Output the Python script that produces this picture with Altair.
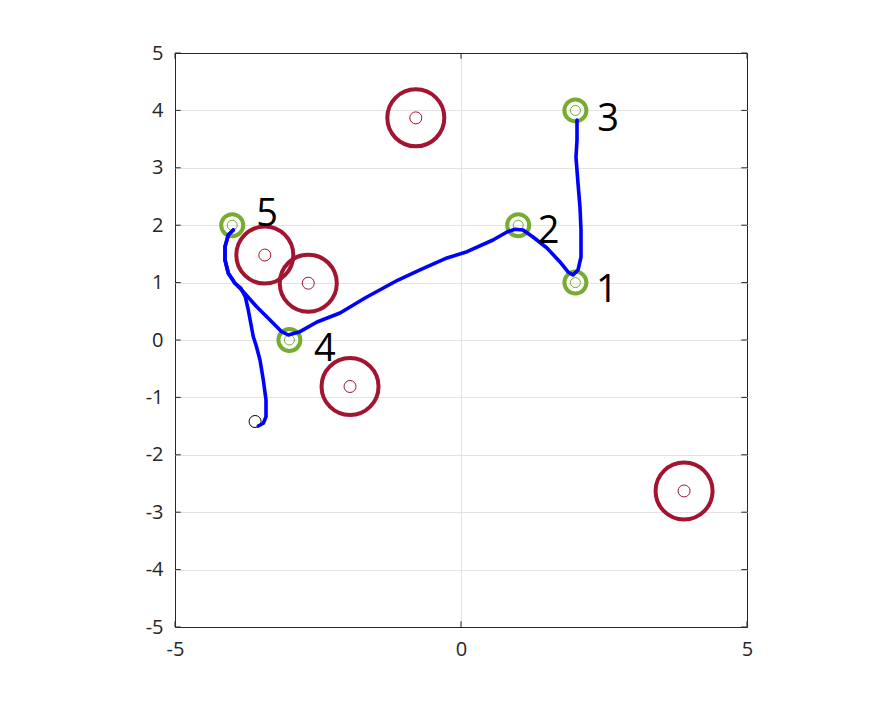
import altair as alt
import pandas as pd

# ---- data ----
obs_x = [-0.79, -3.43, -2.67, -1.94, 3.90]
obs_y = [3.87, 1.48, 0.99, -0.81, -2.63]

goal_x = [2, 1, 2, -3, -4]
goal_y = [1, 2, 4, 0, 2]
goal_lbl = ["1", "2", "3", "4", "5"]
lbl_x = [2.36, 1.34, 2.38, -2.57, -3.58]
lbl_y = [0.66, 1.69, 3.64, -0.37, 1.99]

start_x = [-3.60]
start_y = [-1.42]

# path segment a: start -> junction -> goal 5
seg_a_x = [-3.544, -3.456, -3.409, -3.409, -3.456, -3.514, -3.584, -3.631,
           -3.719, -3.770, -3.850, -3.951, -4.068, -4.126, -4.126, -4.068, -3.981]
seg_a_y = [-1.498, -1.451, -1.336, -1.045, -0.697, -0.348, -0.087, 0.057,
           0.523, 0.750, 0.905, 0.988, 1.162, 1.394, 1.625, 1.829, 1.916]
# path segment b: goal 5 -> goal 4 -> goal 2 -> goal 1 -> goal 3
seg_b_x = [-3.981, -4.068, -4.126, -4.126, -4.068, -3.951, -3.806, -3.572,
           -3.339, -3.135, -3.019, -2.815, -2.517, -2.115, -1.678, -1.101,
           -0.717, -0.245, 0.105, 0.559, 0.804, 0.944, 1.084, 1.259, 1.503,
           1.731, 1.871, 1.958, 2.045, 2.098, 2.098, 2.080, 2.045, 2.010,
           2.028, 2.028]
seg_b_y = [1.916, 1.829, 1.625, 1.394, 1.162, 0.988, 0.841, 0.580,
           0.348, 0.145, 0.087, 0.145, 0.314, 0.470, 0.732, 1.045,
           1.220, 1.429, 1.538, 1.742, 1.882, 1.929, 1.916, 1.794, 1.603,
           1.359, 1.185, 1.132, 1.220, 1.446, 1.916, 2.317, 2.735, 3.188,
           3.484, 3.833]

x_ticks = [-5, 0, 5]
y_ticks = [-5, -4, -3, -2, -1, 0, 1, 2, 3, 4, 5]

# ---- tables ----
obs = pd.DataFrame({"x": obs_x, "y": obs_y})
goals = pd.DataFrame({"x": goal_x, "y": goal_y})
labels = pd.DataFrame({"x": lbl_x, "y": lbl_y, "t": goal_lbl})
start = pd.DataFrame({"x": start_x, "y": start_y})
path = pd.concat([
    pd.DataFrame({"x": seg_a_x, "y": seg_a_y, "seg": "a", "i": range(len(seg_a_x))}),
    pd.DataFrame({"x": seg_b_x, "y": seg_b_y, "seg": "b", "i": range(len(seg_b_x))}),
])

RED = "#A2142F"
GREEN = "#77AC30"
AX = "#262626"
GRID = "#e3e3e3"
FONT = "Open Sans"
TL = 0.1  # tick length in data units

xs = alt.Scale(domain=[-5, 5], nice=False, zero=False)
ys = alt.Scale(domain=[-5, 5], nice=False, zero=False)

grid_col = {"condition": {"test": "abs(datum.value) == 5", "value": AX}, "value": GRID}

X = alt.X("x:Q", scale=xs, axis=alt.Axis(values=x_ticks, title=None, grid=True,
          gridColor=grid_col, ticks=False, domain=False, labelFontSize=20,
          labelFont=FONT, labelColor=AX, labelPadding=12, labelFlush=False,
          labelOverlap=False, labelExpr="'' + datum.value"))
Y = alt.Y("y:Q", scale=ys, axis=alt.Axis(values=y_ticks, title=None, grid=True,
          gridColor=grid_col, ticks=False, domain=False, labelFontSize=20,
          labelFont=FONT, labelColor=AX, labelPadding=12, labelFlush=False,
          labelOverlap=False, labelExpr="'' + datum.value"))

base_x = alt.X("x:Q", scale=xs)
base_y = alt.Y("y:Q", scale=ys)

obs_outer = alt.Chart(obs).mark_point(shape="circle", size=3249, strokeWidth=4,
                                      color=RED, filled=False, opacity=1).encode(x=X, y=Y)
obs_inner = alt.Chart(obs).mark_point(shape="circle", size=144, strokeWidth=1,
                                      color=RED, filled=False, opacity=1).encode(x=base_x, y=base_y)
goal_outer = alt.Chart(goals).mark_point(shape="circle", size=484, strokeWidth=4,
                                         color=GREEN, filled=False, opacity=1).encode(x=base_x, y=base_y)
goal_inner = alt.Chart(goals).mark_point(shape="circle", size=100, strokeWidth=1,
                                         color=GREEN, filled=False, opacity=1).encode(x=base_x, y=base_y)
start_m = alt.Chart(start).mark_point(shape="circle", size=144, strokeWidth=1,
                                      color="black", filled=False, opacity=1).encode(x=base_x, y=base_y)
path_l = alt.Chart(path).mark_line(color="#0000FF", strokeWidth=3.6, strokeCap="round",
                                   strokeJoin="round").encode(x=base_x, y=base_y,
                                                              detail="seg:N", order="i:Q")
text_l = alt.Chart(labels).mark_text(align="left", baseline="alphabetic", fontSize=38,
                                     font=FONT, color="black").encode(x=base_x, y=base_y, text="t:N")

# inward tick marks on all four sides
yt = pd.DataFrame({"v": y_ticks})
xt = pd.DataFrame({"v": x_ticks})
tick_style = dict(color=AX, strokeWidth=1)
ticks_left = alt.Chart(yt).mark_rule(**tick_style).encode(
    x=alt.datum(-5, scale=xs), x2=alt.datum(-5 + TL), y=alt.Y("v:Q", scale=ys))
ticks_right = alt.Chart(yt).mark_rule(**tick_style).encode(
    x=alt.datum(5, scale=xs), x2=alt.datum(5 - TL), y=alt.Y("v:Q", scale=ys))
ticks_bot = alt.Chart(xt).mark_rule(**tick_style).encode(
    y=alt.datum(-5, scale=ys), y2=alt.datum(-5 + TL), x=alt.X("v:Q", scale=xs))
ticks_top = alt.Chart(xt).mark_rule(**tick_style).encode(
    y=alt.datum(5, scale=ys), y2=alt.datum(5 - TL), x=alt.X("v:Q", scale=xs))

chart = alt.layer(
    obs_outer, obs_inner, goal_outer, goal_inner, start_m, path_l, text_l,
    ticks_left, ticks_right, ticks_bot, ticks_top,
).properties(
    width=572, height=574,
    autosize=alt.AutoSizeParams(type="none"),
    padding={"left": 167, "top": 45, "right": 136, "bottom": 68},
).configure_view(stroke=AX, strokeWidth=1).configure(background="white")

chart.save("out.html", embed_options={"renderer": "svg", "actions": False})
